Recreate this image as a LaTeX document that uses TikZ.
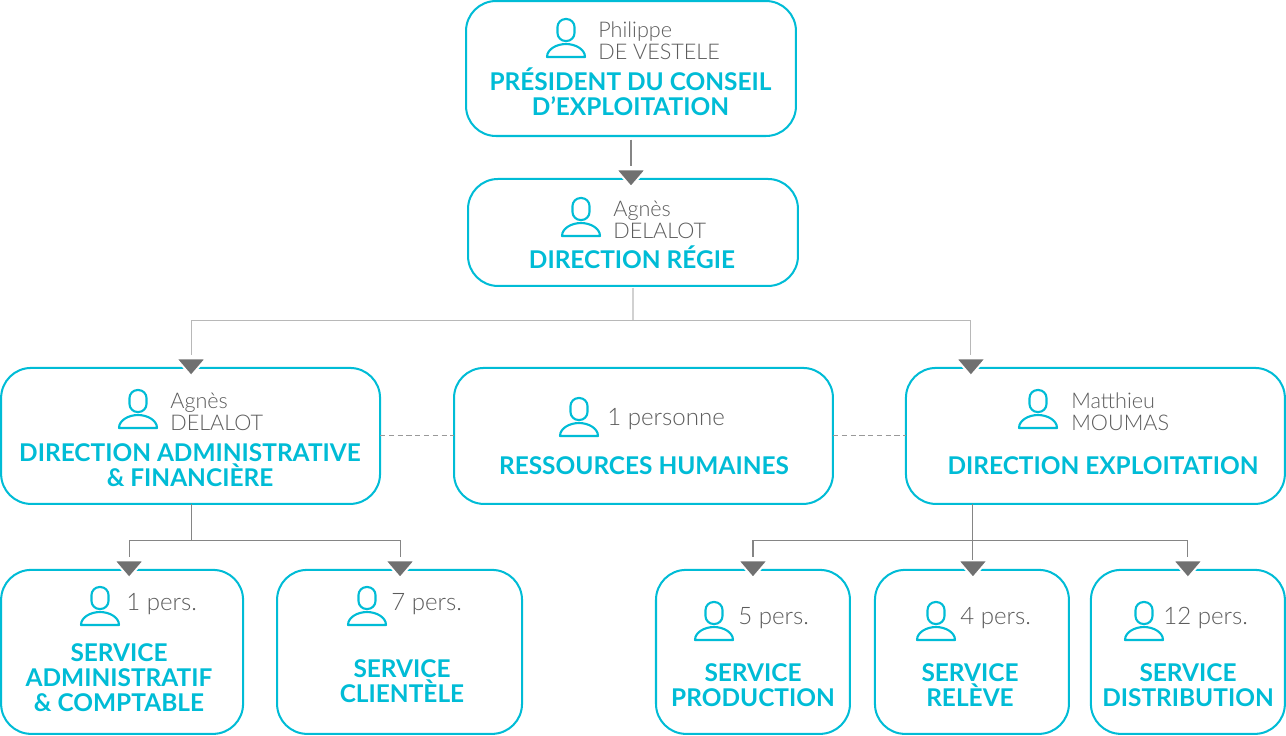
\documentclass[tikz,border=0pt]{standalone}
\usepackage{fontspec}
\setmainfont{Lato}
\newfontfamily\namefont{Lato Light}
\usepackage{tikz}
\usetikzlibrary{shapes.geometric, positioning, calc}
\definecolor{RegieCyan}{RGB}{0, 188, 214}
\definecolor{RegieGray}{RGB}{112, 112, 112}
\definecolor{RegieText}{RGB}{92, 92, 92}

\tikzset{
    person/.pic={
        \draw[RegieCyan, line width=1.2pt, rounded corners=4.6pt] (-8.5,-19) rectangle (8.5,3);
        \draw[RegieCyan, line width=1.2pt, line join=round] (-19,19) .. controls (-19,11) and (-9,6) .. (0,6)
            .. controls (9,6) and (19,11) .. (19,19) -- cycle;
    }
}

\begin{document}
\begin{tikzpicture}[
    x=0.02cm, y=-0.02cm,
    box/.style={rectangle, draw=RegieCyan, fill=white, line width=1.15pt, rounded corners=0.6cm,
                inner sep=0pt, outer sep=0pt},
    bigbox/.style={box, minimum width=7.58cm, minimum height=2.72cm},
    unitbox/.style={box, minimum width=3.88cm, minimum height=3.28cm},
    namebox/.style={anchor=west, align=left, inner sep=0pt, text=RegieText,
                    font=\fontsize{12.3}{12.47}\selectfont\namefont},
    countbox/.style={namebox, font=\fontsize{13.7}{14}\selectfont\namefont},
    titlebox/.style={align=center, inner sep=0pt, text=RegieCyan,
                     font=\fontsize{13.9}{14.17}\selectfont\bfseries},
    tipbox/.style={isosceles triangle, isosceles triangle apex angle=82, isosceles triangle stretches,
                   shape border rotate=270, fill=RegieGray, draw=white, line width=1.1pt,
                   minimum width=0.6cm, minimum height=0.35cm, inner sep=0pt, outer sep=0pt, anchor=apex},
    darkline/.style={draw=RegieGray!85, line width=0.6pt},
    paleline/.style={draw=black!28, line width=0.6pt},
    dashline/.style={draw=black!40, line width=0.5pt, densely dashed}
]
\useasboundingbox (0,0) rectangle (1286,735);

% Boxes
\node[box, minimum width=6.6cm, minimum height=2.7cm] (pres) at (631,68.5) {};
\node[box, minimum width=6.6cm, minimum height=2.14cm, below=0.86cm of pres, xshift=0.04cm] (regie) {};
\node[bigbox, below=1.64cm of regie, xshift=0.21cm] (rh) {};
\node[bigbox, left=1.48cm of rh] (admin) {};
\node[bigbox, right=1.46cm of rh] (expl) {};
\node[box, minimum width=4.84cm, minimum height=3.28cm, below=1.32cm of admin, xshift=-1.37cm] (compta) {};
\node[box, minimum width=4.9cm, minimum height=3.28cm, right=0.68cm of compta] (client) {};
\node[unitbox, below=1.32cm of expl, xshift=-6.85cm] (prod) {};
\node[unitbox, right=0.5cm of prod] (releve) {};
\node[unitbox, right=0.44cm of releve] (distrib) {};

% Arrow heads
\node[tipbox] (tipRegie) at ($(pres.south |- regie.north)+(0,8)$) {};
\node[tipbox] (tipAdmin) at ($(admin.north)+(0.5,8)$) {};
\node[tipbox] (tipExpl) at ($(expl.north)+(-124.5,8)$) {};
\node[tipbox] (tipCompta) at ($(compta.north)+(7,8)$) {};
\node[tipbox] (tipClient) at ($(client.north)+(0.5,8)$) {};
\node[tipbox] (tipProd) at ($(prod.north)+(0,8)$) {};
\node[tipbox] (tipReleve) at ($(releve.north)+(1,8)$) {};
\node[tipbox] (tipDistrib) at ($(distrib.north)+(0,8)$) {};

% Junctions
\coordinate (busTop) at ($(regie.south)+(0,35)$);
\coordinate (busAdmin) at ($(tipAdmin |- admin.south)+(0,37)$);
\coordinate (explFoot) at (expl.south -| tipReleve);
\coordinate (busExpl) at ($(explFoot)+(0,37)$);

% Arrows
\draw[darkline, shorten <=2pt, shorten >=2pt] (pres.south) -- (tipRegie.lower side);
\draw[paleline, draw=black!18, line width=0.9pt, shorten <=1pt] (regie.south) -- (busTop);
\draw[paleline, shorten >=2pt] (busTop) -| (tipAdmin.lower side);
\draw[paleline, shorten >=2pt] (busTop) -| (tipExpl.lower side);
\draw[darkline] (tipAdmin |- admin.south) -- (busAdmin);
\draw[darkline, shorten >=2pt] (busAdmin) -| (tipCompta.lower side);
\draw[darkline, shorten >=2pt] (busAdmin) -| (tipClient.lower side);
\draw[darkline] (explFoot) -- (tipReleve.lower side);
\draw[darkline, shorten >=2pt] (busExpl) -| (tipProd.lower side);
\draw[darkline, shorten >=2pt] (busExpl) -| (tipDistrib.lower side);
\draw[dashline] (admin) -- (rh);
\draw[dashline] (rh) -- (expl);

% Icons
\foreach \ix/\iy in {566/38, 581/217, 138/409, 579/417, 1038/409, 100/606, 367/606, 714/621, 936/621, 1144/621}
    \pic at (\ix,\iy) {person};

% Names
\node[namebox] (presName) at (598,41) {Philippe\\DE VESTELE};
\node[namebox] (regieName) at (613,219.5) {Agnès\\DELALOT};
\node[namebox] (adminName) at (170,411.5) {Agnès\\DELALOT};
\node[countbox] (rhName) at (607,419) {1 personne};
\node[namebox] (explName) at (1071,411.5) {Matthieu\\MOUMAS};
\node[countbox] (comptaName) at (126,604) {1 pers.};
\node[countbox] (clientName) at (391,604) {7 pers.};
\node[countbox] (prodName) at (738,618) {5 pers.};
\node[countbox] (releveName) at (960,618) {4 pers.};
\node[countbox] (distribName) at (1163,618) {12 pers.};

% Titles
\node[titlebox] (presTitle) at (630.5,91.5) {PRÉSIDENT DU CONSEIL\\D’EXPLOITATION};
\node[titlebox] (regieTitle) at (632,257) {DIRECTION RÉGIE};
\node[titlebox] (adminTitle) at (190,465) {DIRECTION ADMINISTRATIVE\\\& FINANCIÈRE};
\node[titlebox] (rhTitle) at (644,465.5) {RESSOURCES HUMAINES};
\node[titlebox] (explTitle) at (1103,465.5) {DIRECTION EXPLOITATION};
\node[titlebox] (comptaTitle) at (119,677.5) {SERVICE\\ADMINISTRATIF\\\& COMPTABLE};
\node[titlebox] (clientTitle) at (402,681.5) {SERVICE\\CLIENTÈLE};
\node[titlebox] (prodTitle) at (753,685) {SERVICE\\PRODUCTION};
\node[titlebox] (releveTitle) at (970,685) {SERVICE\\RELÈVE};
\node[titlebox] (distribTitle) at (1188,685) {SERVICE\\DISTRIBUTION};

\end{tikzpicture}
\end{document}
